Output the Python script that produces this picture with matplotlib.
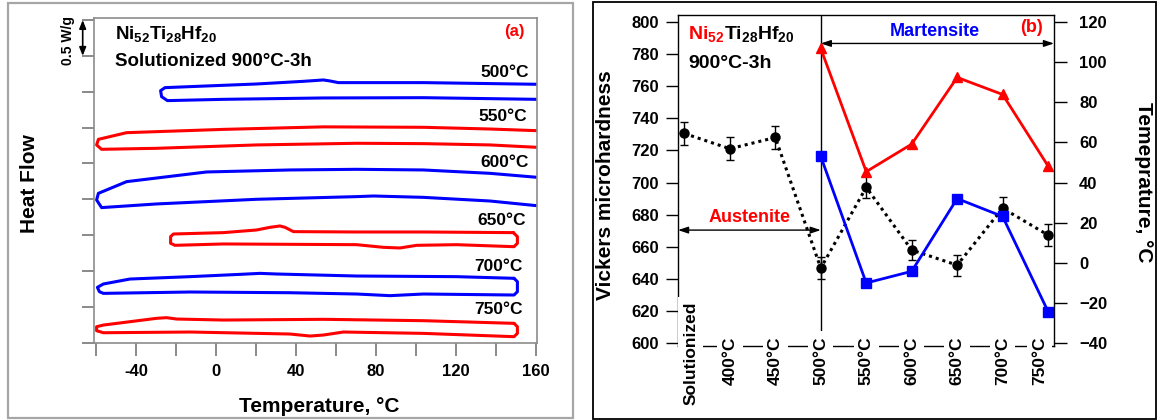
import matplotlib
matplotlib.use("Agg")
import matplotlib.pyplot as plt
from matplotlib.patches import Rectangle

plt.rcParams['font.family'] = ['Liberation Sans', 'DejaVu Sans']
plt.rcParams['font.weight'] = 'bold'
plt.rcParams['axes.labelweight'] = 'bold'
plt.rcParams['mathtext.fontset'] = 'custom'
plt.rcParams['mathtext.rm'] = 'Liberation Sans:bold'
plt.rcParams['mathtext.it'] = 'Liberation Sans:bold'
plt.rcParams['mathtext.bf'] = 'Liberation Sans:bold'
plt.rcParams['mathtext.default'] = 'rm'

# ---------------- DSC loops (temperature in °C, heat flow in W/g, stacked) ----------------
t_500 = [160.3, 103.7, 61.2, 57.0, 53.7, 43.7, 20.3, -13.0, -25.5, -27.7, -27.2, -24.3,
         3.7, 53.7, 103.7, 160.3]
hf_500 = [3.604, 3.627, 3.627, 3.650, 3.664, 3.645, 3.608, 3.571, 3.557, 3.515, 3.431, 3.376,
          3.394, 3.413, 3.417, 3.394]

t_550 = [160.3, 137.0, 103.7, 53.7, 3.7, -44.7, -58.8, -59.7, -57.2,
         -29.7, 20.3, 70.3, 103.7, 137.0, 160.3]
hf_550 = [2.957, 2.980, 3.004, 3.010, 2.975, 2.929, 2.836, 2.758, 2.697,
          2.711, 2.758, 2.781, 2.776, 2.758, 2.725]

t_600 = [160.3, 137.0, 103.7, 70.3, 37.0, -4.7, -13.0, -44.7, -58.8, -59.7, -57.2,
         -29.7, 20.3, 70.3, 78.7, 103.7, 137.0, 160.3]
hf_600 = [2.307, 2.362, 2.409, 2.418, 2.409, 2.381, 2.353, 2.246, 2.083, 1.991, 1.884,
          1.935, 2.000, 2.037, 2.046, 2.027, 1.976, 1.911]

t_650 = [148.7, 103.7, 70.3, 38.7, 34.5, 32.0, 27.0, 20.3, 3.7, -21.3, -22.7, -22.7,
         -20.5, 3.7, 70.3, 83.7, 92.0, 100.3, 120.3, 149.0, 150.7, 150.7, 148.7]
hf_650 = [1.535, 1.544, 1.544, 1.549, 1.609, 1.628, 1.609, 1.572, 1.535, 1.516, 1.479, 1.386,
          1.358, 1.377, 1.367, 1.330, 1.321, 1.358, 1.367, 1.339, 1.386, 1.479, 1.535]

t_700 = [149.0, 120.3, 70.3, 30.3, 22.0, 12.0, -13.0, -43.0, -56.3, -59.3, -58.3, -56.3,
         -13.0, 37.0, 70.3, 87.0, 103.7, 149.0, 150.7, 150.7, 149.0]
hf_700 = [0.898, 0.921, 0.930, 0.958, 0.967, 0.953, 0.921, 0.888, 0.819, 0.772, 0.711, 0.688,
          0.707, 0.697, 0.679, 0.656, 0.679, 0.665, 0.711, 0.851, 0.898]

t_750 = [149.0, 103.7, 53.7, 3.7, -19.7, -24.7, -29.7, -43.0, -56.3, -59.7, -59.7, -56.3,
         -13.0, 37.0, 47.0, 53.7, 63.7, 103.7, 149.0, 150.7, 150.7, 149.0]
hf_750 = [0.270, 0.307, 0.326, 0.316, 0.330, 0.349, 0.340, 0.293, 0.246, 0.223, 0.167, 0.139,
          0.149, 0.121, 0.093, 0.107, 0.149, 0.130, 0.084, 0.130, 0.223, 0.270]

dsc_labels = ["500°C", "550°C", "600°C", "650°C", "700°C", "750°C"]
dsc_colors = ["blue", "red", "blue", "red", "blue", "red"]
temp_ticks_a = [-60, -40, -20, 0, 20, 40, 60, 80, 100, 120, 140, 160]
temp_ticklabels_a = ["", "-40", "", "0", "", "40", "", "80", "", "120", "", "160"]

# ---------------- Hardness and transformation temperatures ----------------
conditions = ["Solutionized", "400°C", "450°C", "500°C", "550°C",
              "600°C", "650°C", "700°C", "750°C"]
hardness = [730.5, 721.0, 728.0, 646.7, 697.0, 658.0, 648.6, 684.0, 667.3]
hardness_err = [7.1, 7.3, 7.2, 6.7, 6.9, 6.4, 6.6, 6.8, 6.7]
aged_idx = [3, 4, 5, 6, 7, 8]
af_temp = [106.7, 45.4, 59.1, 92.3, 83.8, 48.2]
ms_temp = [53.0, -10.0, -4.2, 32.0, 23.1, -24.2]

W, H = 1157, 420
fig = plt.figure(figsize=(W / 100, H / 100), dpi=100)


def box(left, top, right, bottom):
    return [left / W, 1 - bottom / H, (right - left) / W, (bottom - top) / H]


# panel frames
fig.add_artist(Rectangle((8 / W, 2 / H), (572.5 - 8) / W, (418 - 2.5) / H,
                         transform=fig.transFigure, fill=False, ec='#a6a6a6', lw=1.6))
fig.add_artist(Rectangle((592.5 / W, 1.5 / H), (1155.5 - 592.5) / W, (418.5 - 2) / H,
                         transform=fig.transFigure, fill=False, ec='black', lw=1.3))

# ======================= (a) DSC =======================
axa = fig.add_axes(box(94, 18.3, 537, 342.7))
loops = [(t_500, hf_500), (t_550, hf_550), (t_600, hf_600),
         (t_650, hf_650), (t_700, hf_700), (t_750, hf_750)]
for (tt, hf), c in zip(loops, dsc_colors):
    axa.plot(tt, hf, color=c, lw=2.2, solid_joinstyle='round', solid_capstyle='round')

axa.set_xlim(-61, 160.5)
axa.set_ylim(0, 4.524)
axa.set_xticks(temp_ticks_a)
axa.set_xticklabels(temp_ticklabels_a)
axa.set_yticks([0, 0.5, 1.0, 1.5, 2.0, 2.5, 3.0, 3.5, 4.0, 4.5])
axa.set_yticklabels([])
axa.tick_params(direction='out', length=9, width=1.1, color='#6a6a6a', labelsize=12, pad=6)
for s in axa.spines.values():
    s.set_color('#8c8c8c')
    s.set_linewidth(1.2)

label_pos = [(156.7, 3.70), (155.7, 3.096), (156.2, 2.446),
             (155.0, 1.642), (153.4, 1.004), (153.4, 0.40)]
for lab, (lx, ly) in zip(dsc_labels, label_pos):
    axa.text(lx, ly, lab, ha='right', va='baseline', fontsize=12.5)

axa.text(0.047, 0.935, r"Ni$_{52}$Ti$_{28}$Hf$_{20}$", transform=axa.transAxes,
         fontsize=13.5, va='baseline')
axa.text(0.047, 0.853, "Solutionized 900°C-3h", transform=axa.transAxes,
         fontsize=13.5, va='baseline')
axa.text(0.948, 0.959, "(a)", transform=axa.transAxes, color='red',
         fontsize=12, ha='center', va='center')

# 0.5 W/g scale bar
axa.annotate('', xy=(-0.0255, 4.5), xytext=(-0.0255, 4.0),
             xycoords=('axes fraction', 'data'), textcoords=('axes fraction', 'data'),
             arrowprops=dict(arrowstyle='<|-|>,head_length=0.5,head_width=0.2',
                             mutation_scale=10, color='black', lw=1.2,
                             shrinkA=0, shrinkB=0),
             annotation_clip=False)
axa.text(-0.0587, 4.22, "0.5 W/g", transform=axa.get_yaxis_transform(),
         rotation=90, ha='center', va='center', fontsize=10)

axa.set_xlabel("Temperature, °C", fontsize=15)
axa.xaxis.set_label_coords(0.509, -0.197)
axa.xaxis.label.set_va('center')
axa.set_ylabel("Heat Flow", fontsize=15)
axa.yaxis.set_label_coords(-0.1445, 0.492)
axa.yaxis.label.set(va='center', ha='center', rotation_mode='default')

# ======================= (b) Hardness =======================
axb = fig.add_axes(box(678, 15, 1054, 346))
axt = axb.twinx()
x = list(range(len(conditions)))
hv_lo, hv_hi = 598.3, 804.2
axb.set_xlim(-0.14, 8.13)
axb.set_ylim(hv_lo, hv_hi)
axt.set_ylim(0.8 * hv_lo - 520, 0.8 * hv_hi - 520)
axb.set_xticks([])
axt.set_xticks([])
axb.set_yticks(range(600, 801, 20))
axt.set_yticks(range(-40, 121, 20))
axb.tick_params(axis='y', direction='out', length=9, width=1.0, labelsize=12, pad=5)
axt.tick_params(axis='y', direction='out', length=9, width=1.0, labelsize=12, pad=9)
for s in axb.spines.values():
    s.set_linewidth(1.0)
axb.spines['right'].set_visible(False)
for side in ['top', 'bottom', 'left']:
    axt.spines[side].set_visible(False)
axt.spines['right'].set_linewidth(1.0)

axb.axvline(3, color='black', lw=1.0, zorder=1)

axb.errorbar(x, hardness, yerr=hardness_err, fmt='none', ecolor='black',
             elinewidth=1.0, capsize=3, capthick=1.0, zorder=2)
axb.plot(x, hardness, color='black', lw=2.2, linestyle=(0, (1, 1.3)),
         marker='o', markersize=6.5, zorder=3)

axt.plot(aged_idx, af_temp, color='red', lw=2.0, marker='^', markersize=7.5, zorder=3)
axt.plot(aged_idx, ms_temp, color='blue', lw=2.0, marker='s', markersize=6.5, zorder=3)

# phase ranges
axb.annotate('', xy=(3, 670.4), xytext=(-0.14, 670.4),
             arrowprops=dict(arrowstyle='<|-|>,head_length=0.6,head_width=0.2',
                             mutation_scale=10, color='black', lw=1.0,
                             shrinkA=0, shrinkB=0))
axb.text(0.191, 678, "Austenite", transform=axb.get_yaxis_transform(),
         color='red', fontsize=13, ha='center', va='center')
axb.annotate('', xy=(8.13, 786.5), xytext=(3, 786.5),
             arrowprops=dict(arrowstyle='<|-|>,head_length=0.6,head_width=0.2',
                             mutation_scale=10, color='black', lw=1.0,
                             shrinkA=0, shrinkB=0))
axb.text(0.684, 0.949, "Martensite", transform=axb.transAxes,
         color='blue', fontsize=13, ha='center', va='center')
axb.text(0.941, 0.961, "(b)", transform=axb.transAxes,
         color='red', fontsize=13, ha='center', va='center')

head = axb.text(0.027, 0.927, r"Ni$_{52}$", transform=axb.transAxes,
                color='red', fontsize=14, va='baseline')
axb.annotate(r"Ti$_{28}$Hf$_{20}$", xy=(1, 0), xycoords=head,
             ha='left', va='bottom', fontsize=14, color='black')
axb.text(0.027, 0.839, "900°C-3h", transform=axb.transAxes,
         fontsize=14, va='baseline')

# category labels sitting on the bottom axis line
xt = axb.get_xaxis_transform()
for i, lab in enumerate(conditions):
    dx, dy = 0, -10.5
    if i == 0:
        dx, dy = 4.5, -5.5
    elif i == len(conditions) - 1:
        dx = -6
    axb.annotate(lab, xy=(i, 0), xycoords=xt, xytext=(dx, dy),
                 textcoords='offset points', rotation=90, ha='center', va='center',
                 fontsize=12.5, zorder=5, annotation_clip=False,
                 bbox=dict(boxstyle='square,pad=0.3', fc='white', ec='none'))

axb.set_ylabel("Vickers microhardness", fontsize=15)
axb.yaxis.set_label_coords(-0.1915, 0.485)
axb.yaxis.label.set(va='center', ha='center', rotation_mode='default')
axt.set_ylabel("Temeprature, °C", fontsize=15, rotation=270)
axt.yaxis.set_label_coords(1.239, 0.496)
axt.yaxis.label.set(va='center', ha='center', rotation_mode='default')

fig.savefig("out.png", dpi=100)
